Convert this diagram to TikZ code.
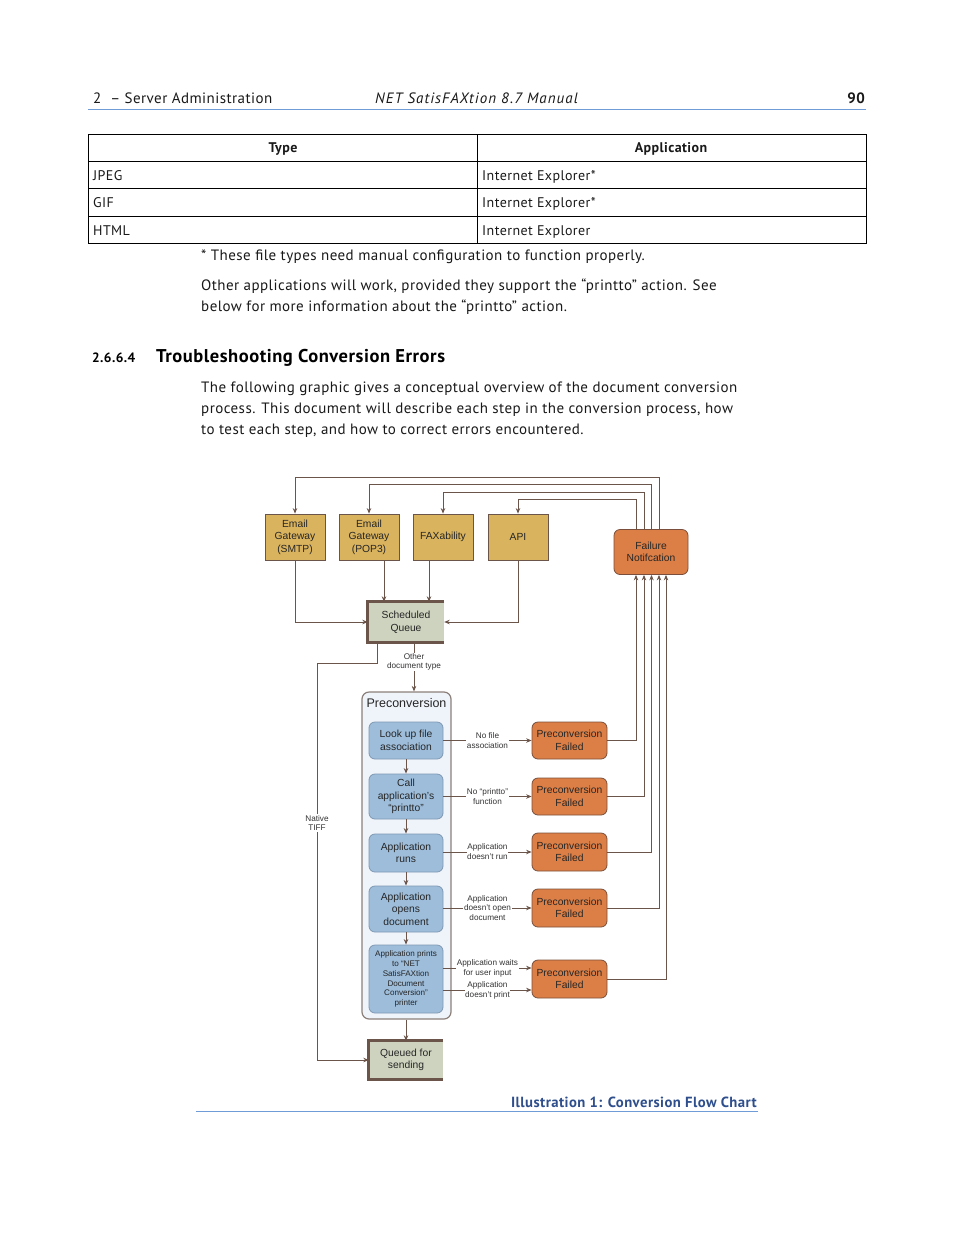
\documentclass[tikz,border=0pt]{standalone}
\usepackage{fontspec}
\setmainfont{PT Sans}[LetterSpace=3]
\newfontfamily\arialf{Liberation Sans}
\newfontfamily\hdrit{PT Sans Italic}[LetterSpace=7]
\usetikzlibrary{arrows.meta}
\definecolor{brn}{HTML}{6B5449}
\definecolor{goldc}{HTML}{D9B35E}
\definecolor{orgc}{HTML}{DC7F46}
\definecolor{orgb}{HTML}{7A4E3A}
\definecolor{bluec}{HTML}{9DBDDA}
\definecolor{blueb}{HTML}{8098B2}
\definecolor{contf}{HTML}{EFF3FA}
\definecolor{contb}{HTML}{8B7F79}
\definecolor{sqf}{HTML}{CDD3BE}
\definecolor{hdrl}{HTML}{6F9BD6}
\definecolor{capc}{HTML}{2E4F8C}
\begin{document}
\begin{tikzpicture}[x=1pt,y=-1pt,
  conn/.style={draw=brn, line width=0.8pt, -{Stealth[length=5.5pt,width=4.5pt]}},
  plain/.style={draw=brn, line width=0.8pt},
  txt/.style={inner sep=0pt, font=\fontsize{15}{21}\selectfont, text=black!90},
  ttxt/.style={inner sep=0pt, font=\fontsize{14}{21}\selectfont, text=black!90},
  boxtxt/.style={inner sep=1pt, align=center, font=\arialf\fontsize{10.3}{12.6}\selectfont, text=black!85},
  gold/.style={boxtxt, draw=brn, fill=goldc, line width=0.8pt, minimum width=60pt, minimum height=46pt},
  orng/.style={boxtxt, draw=orgb, fill=orgc, line width=0.8pt, rounded corners=6pt, minimum width=75pt, minimum height=37pt},
  blu/.style={boxtxt, draw=blueb, fill=bluec, line width=0.8pt, rounded corners=6pt, minimum width=74pt},
  queue/.style={boxtxt, fill=sqf, minimum width=76pt, minimum height=40pt},
  lab/.style={fill=white, inner sep=0.6pt, align=center, font=\arialf\fontsize{8.2}{9.9}\selectfont, text=black!80},
  thickb/.style={draw=brn, line width=3.2pt}
]
\useasboundingbox (0,0) rectangle (954,1235);

% header
\node[txt, anchor=base west] (h1) at (93,103.5) {2\ \ – Server Administration};
\node[txt, anchor=base west, font=\hdrit\fontsize{15}{21}\selectfont] (h2) at (375,103.5) {NET SatisFAXtion 8.7 Manual};
\node[txt, anchor=base east] (h3) at (865,103.5) {\bfseries 90};
\draw[hdrl, line width=1.6pt] (88,109.5) -- (866,109.5);

% table
\draw[black, line width=0.8pt] (88,134) rectangle (866,243);
\draw[black, line width=0.8pt] (88,161) -- (866,161) (88,188) -- (866,188) (88,216) -- (866,216) (477,134) -- (477,243);
\node[ttxt, anchor=base] (th1) at (283,152) {\bfseries Type};
\node[ttxt, anchor=base] (th2) at (671,152) {\bfseries Application};
\node[ttxt, anchor=base west] (t1) at (93,180) {JPEG};
\node[ttxt, anchor=base west] (t2) at (482,180) {Internet Explorer*};
\node[ttxt, anchor=base west] (t3) at (93,207) {GIF};
\node[ttxt, anchor=base west] (t4) at (482,207) {Internet Explorer*};
\node[ttxt, anchor=base west] (t5) at (93,235) {HTML};
\node[ttxt, anchor=base west] (t6) at (482,235) {Internet Explorer};

% body text
\node[txt, anchor=base west] (p1) at (201,260) {* These file types need manual configuration to function properly.};
\node[txt, anchor=base west] (p2) at (201,290) {Other applications will work, provided they support the “printto” action. See};
\node[txt, anchor=base west] (p3) at (201,311) {below for more information about the “printto” action.};
\node[inner sep=0pt, anchor=base west, font=\fontsize{13.5}{15}\selectfont\bfseries] (sn) at (92,362) {2.6.6.4};
\node[inner sep=0pt, anchor=base west, font=\fontsize{18.5}{20}\selectfont\bfseries] (st) at (156,362) {Troubleshooting Conversion Errors};
\node[txt, anchor=base west] (p4) at (201,392) {The following graphic gives a conceptual overview of the document conversion};
\node[txt, anchor=base west] (p5) at (201,413) {process. This document will describe each step in the conversion process, how};
\node[txt, anchor=base west] (p6) at (201,434) {to test each step, and how to correct errors encountered.};

% diagram nodes
\node[gold] (smtp) at (295,537) {Email\\Gateway\\(SMTP)};
\node[gold] (pop3) at (369,537) {Email\\Gateway\\(POP3)};
\node[gold] (fax) at (443,537) {FAXability};
\node[gold] (api) at (518,537) {API};
\node[orng, minimum width=74pt, minimum height=45pt] (fn) at (651,552) {Failure\\Notifcation};
\node[queue] (sq) at (406,622) {Scheduled\\Queue};
\draw[thickb] (sq.north east) -- (sq.north west) -- (sq.south west) -- (sq.south east);

\node[draw=contb, fill=contf, line width=1.2pt, rounded corners=7pt, minimum width=89pt, minimum height=327pt] (pre) at (406.5,855.5) {};
\node[boxtxt, font=\arialf\fontsize{12.5}{14}\selectfont, anchor=center] (pret) at (406.5,703) {Preconversion};

\node[blu, minimum height=37pt] (b1) at (406,740.5) {Look up file\\association};
\node[blu, minimum height=45pt] (b2) at (406,796.5) {Call\\application’s\\“printto”};
\node[blu, minimum height=38pt] (b3) at (406,853) {Application\\runs};
\node[blu, minimum height=46pt] (b4) at (406,909) {Application\\opens\\document};
\node[blu, minimum height=68pt, font=\arialf\fontsize{8.1}{9.9}\selectfont] (b5) at (406,979) {Application prints\\to “NET\\SatisFAXtion\\Document\\Conversion”\\printer};

\node[orng] (o1) at (569.5,740.5) {Preconversion\\Failed};
\node[orng] (o2) at (569.5,796.5) {Preconversion\\Failed};
\node[orng, minimum height=38pt] (o3) at (569.5,852) {Preconversion\\Failed};
\node[orng, minimum height=38pt] (o4) at (569.5,908) {Preconversion\\Failed};
\node[orng, minimum height=38pt] (o5) at (569.5,979) {Preconversion\\Failed};

\node[queue, minimum width=74pt, minimum height=38pt] (qs) at (406,1060) {Queued for\\sending};
\draw[thickb] (qs.north east) -- (qs.north west) -- (qs.south west) -- (qs.south east);

% input connectors
\draw[conn] (smtp.south) |- (sq.west);
\draw[conn] ([xshift=15pt]pop3.south) -- ([xshift=15pt]pop3.south |- sq.north);
\draw[conn] ([xshift=-14pt]fax.south) -- ([xshift=-14pt]fax.south |- sq.north);
\draw[conn] (api.south) |- (sq.east);

% failure notification back to inputs
\draw[conn] ([xshift=8pt]fn.north) |- ([yshift=36pt]smtp.north) -- (smtp.north);
\draw[conn] ([xshift=0.5pt]fn.north) |- ([yshift=29pt]pop3.north) -- (pop3.north);
\draw[conn] ([xshift=-7pt]fn.north) |- ([yshift=21pt]fax.north) -- (fax.north);
\draw[conn] ([xshift=-15pt]fn.north) |- ([yshift=14pt]api.north) -- (api.north);

% queue to preconversion
\draw[conn] ([xshift=8pt]sq.south) -- ([xshift=8pt]sq.south |- pre.north)
  node[lab, pos=0.4] (odt) {Other\\document type};
\coordinate (nat) at (317,663);
\draw[plain] ([xshift=-29pt]sq.south) |- (nat);
\draw[conn] (nat) |- (qs.west);
\node[lab] (ntiff) at (317,823) {Native\\TIFF};

% internal steps
\draw[conn] (b1.south) -- (b2.north);
\draw[conn] (b2.south) -- (b3.north);
\draw[conn] (b3.south) -- (b4.north);
\draw[conn] (b4.south) -- (b5.north);
\draw[conn] (qs.north |- pre.south) -- (qs.north);

% failures
\draw[conn] (b1.east) -- (o1.west) node[lab, midway] (l1) {No file\\association};
\draw[conn] (b2.east) -- (o2.west) node[lab, midway] (l2) {No “printto”\\function};
\draw[conn] (b3.east |- o3.west) -- (o3.west) node[lab, midway] (l3) {Application\\doesn’t run};
\draw[conn] (b4.east |- o4.west) -- (o4.west) node[lab, midway] (l4) {Application\\doesn’t open\\document};
\draw[conn] ([yshift=11pt]b5.east) -- ([yshift=11pt]o5.west) node[lab, midway] (l5) {Application waits\\for user input};
\draw[conn] ([yshift=-11pt]b5.east) -- ([yshift=-11pt]o5.west) node[lab, midway] (l6) {Application\\doesn’t print};

\draw[conn] (o1.east) -| ([xshift=-15pt]fn.south);
\draw[conn] (o2.east) -| ([xshift=-7pt]fn.south);
\draw[conn] (o3.east) -| ([xshift=0.5pt]fn.south);
\draw[conn] (o4.east) -| ([xshift=8pt]fn.south);
\draw[conn] (o5.east) -| ([xshift=15pt]fn.south);

% caption
\node[inner sep=0pt, anchor=base east, font=\fontsize{14.7}{16}\selectfont\bfseries, text=capc] (cap) at (757,1107) {Illustration 1: Conversion Flow Chart};
\draw[hdrl, line width=1.6pt] (196,1111.5) -- (758,1111.5);
\end{tikzpicture}
\end{document}
